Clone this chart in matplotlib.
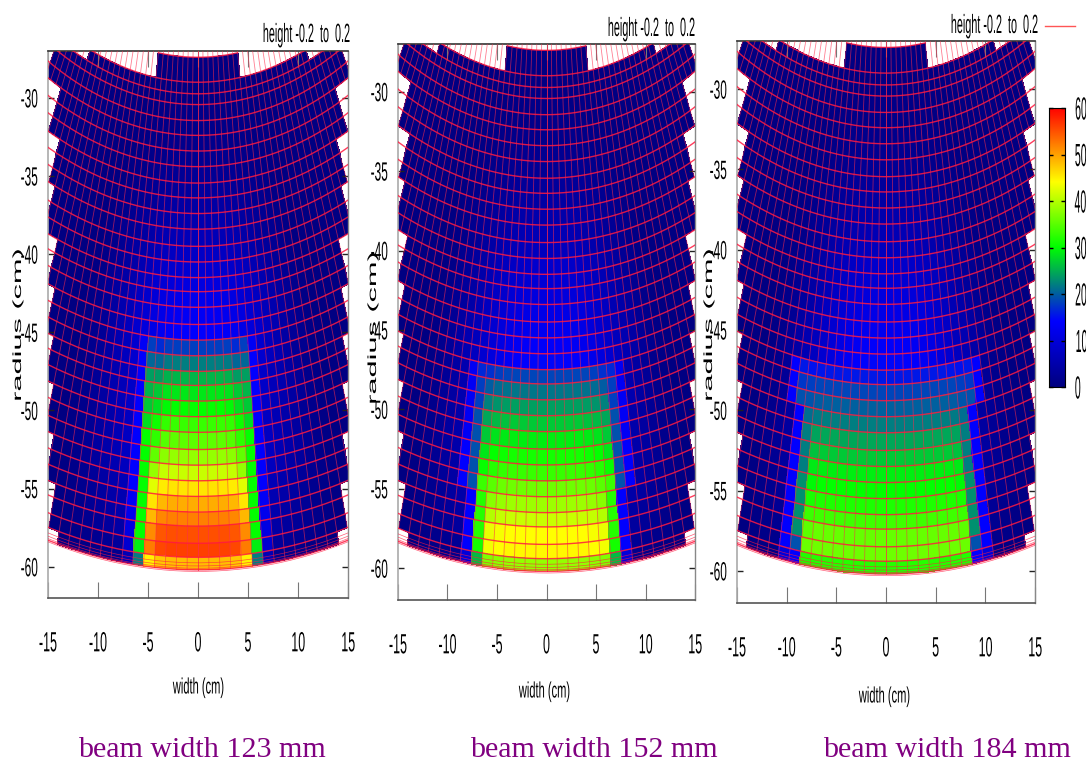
import numpy as np
import matplotlib
matplotlib.use('Agg')
import matplotlib.pyplot as plt
from matplotlib.colors import LinearSegmentedColormap
from matplotlib.lines import Line2D
from matplotlib.patheffects import AbstractPathEffect
from matplotlib.transforms import Affine2D

plt.rcParams['font.family'] = ['Liberation Sans', 'DejaVu Sans']
plt.rcParams['axes.unicode_minus'] = False

ring_edges = [27.4, 29.0, 29.74, 30.43, 31.45, 32.4, 33.4, 34.4, 35.45, 36.4, 37.4, 38.4,
              39.5, 40.5, 41.5, 42.4, 43.4, 44.5, 45.5, 46.5, 47.5, 48.4, 49.4, 50.4,
              51.4, 52.5, 53.5, 54.5, 55.5, 56.5, 57.4, 58.5, 59.4, 60.2]
edge_arcs = [59.75, 59.95, 60.1, 60.3]
bin_deg = 1.04

# outline of the detector: stepped blocks on the sides, stepped start at the top
block_outer = [32.4, 35.45, 38.4, 41.5, 44.5, 47.5, 50.4, 53.5, 56.5, 59.4, 60.2]
block_bins = [27, 24, 22, 21, 19, 18, 17, 16, 15, 14, 13]
start_ring = [0] * 8 + [1] * 13 + [2] * 5 + [3] * 3
glow_side = [1, 1, .98, .95, .9, .82, .72, .62, .5, .4, .3, .2, .12, .06,
             .03, 0, 0, 0, 0, 0, 0, 0, 0, 0, 0, 0, 0, 0, 0]

titles = ['beam width 123 mm', 'beam width 152 mm', 'beam width 184 mm']
height_label = 'height -0.2  to  0.2'
x_ticks = [-15, -10, -5, 0, 5, 10, 15]
y_ticks = [-30, -35, -40, -45, -50, -55, -60]
bar_ticks = [0, 10, 20, 30, 40, 50, 60]

glow_1 = [.5, .5, .8, 1, 1.2, 1.6, 2, 2.6, 3.4, 4.2, 5.2, 6.4, 7.8, 9.2, 10.6, 12, 13, 14,
          14, 14, 13, 13, 13, 12, 12, 12, 11, 10, 9, 8, 7, 5, 3]
core_1 = [18, 22, 25.5, 28.5, 30, 33, 35, 38, 41, 45.5, 49, 52, 55, 56, 48]
edge_1 = [18, 20.5, 24, 25.5, 26.5, 28, 30, 30, 30, 30, 30, 30, 30, 29, 22]
halo_1 = [13, 14, 14, 14, 14, 14, 14, 14, 14, 14, 13, 12, 11, 9, 6]
bins_1 = [5] * 15
side_1 = [1, 1, 1, .99, .93]

glow_2 = [.5, .5, .8, 1, 1.2, 1.6, 2, 2.5, 3.2, 4, 5, 6, 7, 8.5, 9.5, 10.5, 11.5, 12.5, 13.5, 14.5,
          13, 13, 13, 12, 12, 12, 11, 10, 9, 8, 7, 5, 3]
core_2 = [18.5, 21.5, 24, 26.5, 29, 31, 33, 36, 38.5, 41, 44, 44.5, 38]
edge_2 = [16.5, 18, 18, 19, 19, 19, 19, 19, 32, 32, 32, 31, 26]
halo_2 = [13, 13, 13, 13, 13, 14, 14, 14, 14, 14, 14, 14, 10]
bins_2 = [7, 7, 7, 7, 7, 7, 7, 7, 6, 6, 6, 6, 6]
side_2 = [1, 1, 1, 1, .99, .97, .92]

glow_3 = [.5, .5, .8, 1, 1.2, 1.6, 2, 2.5, 3.2, 4, 5, 6, 7, 8.5, 9.5, 10.5, 11.5, 12.5, 13.5, 14.5,
          13, 13, 13, 12, 12, 12, 11, 10, 9, 8, 7, 5, 3]
core_3 = [15.5, 18.5, 20, 22, 24.5, 26.5, 29, 30, 31.5, 33.5, 35.5, 36, 32]
edge_3 = [15.5, 17.5, 19, 21, 22, 22, 22, 23, 23, 23, 23, 19, 14]
halo_3 = [14, 14, 14, 14, 14, 14, 14, 14, 14, 14, 14, 14, 10]
bins_3 = [9, 9, 9, 8, 8, 8, 8, 8, 8, 8, 8, 8, 8]
side_3 = [1, 1, 1, 1, 1, 1, 1, .99, .97]

W, H = 1086, 761
cmap = LinearSegmentedColormap.from_list('beam', [
    (0, (0, 0, .5)), (14 / 60, (0, 0, 1)), (30 / 60, (0, 1, 0)),
    (44 / 60, (1, 1, 0)), (1, (1, 0, 0))])


class Squeeze(AbstractPathEffect):
    # the reference text is stretched, scale it along its own baseline
    def __init__(self, sx, anchor=.5):
        self.sx = sx
        self.anchor = anchor

    def draw_path(self, renderer, gc, tpath, affine, rgbFace=None):
        box = tpath.get_extents()
        cx = box.x0 + self.anchor * box.width
        tr = Affine2D().translate(-cx, 0).scale(self.sx, 1).translate(cx, 0) + affine
        renderer.draw_path(gc, tpath, tr, rgbFace)


def px_axes(left, right, top, bottom):
    return fig.add_axes([left / W, 1 - bottom / H, (right - left) / W, (bottom - top) / H])


def px_text(x, y, s, **kw):
    return fig.text(x / W, 1 - y / H, s, **kw)


def ring_limit(outer):
    for r, n in zip(block_outer, block_bins):
        if outer <= r:
            return n
    return block_bins[-1]


def build_cells(glow, core, edge, halo, bins, side):
    n_ring = len(ring_edges) - 1
    nb = len(start_ring) - 1
    z = np.ma.masked_all((n_ring, 2 * nb))
    first = n_ring - len(core)
    for j in range(n_ring):
        limit = ring_limit(ring_edges[j + 1])
        for i in range(2 * nb):
            k = i - nb if i >= nb else nb - 1 - i
            if k >= limit or j < start_ring[k]:
                continue
            val = glow[j] * glow_side[k]
            if j >= first:
                b = j - first
                if k < bins[b]:
                    val = core[b] * side[k]
                elif k == bins[b]:
                    val = edge[b]
                elif k == bins[b] + 1:
                    val = halo[b]
            z[j, i] = max(val, .3)
    return z


def draw_panel(ax, glow, core, edge, halo, bins, side):
    nb = len(start_ring) - 1
    theta = np.radians(np.arange(-nb, nb + 1) * bin_deg)
    rr, tt = np.meshgrid(ring_edges, theta, indexing='ij')
    ax.pcolormesh(rr * np.sin(tt), -rr * np.cos(tt), build_cells(glow, core, edge, halo, bins, side),
                  cmap=cmap, vmin=0, vmax=60, shading='flat', linewidth=0, antialiased=False)

    # radial mesh, runs on through the white part at the top
    for k in range(nb + 1):
        ends = [ring_edges[j + 1] for j in range(len(ring_edges) - 1) if k <= ring_limit(ring_edges[j + 1])]
        r_end = max(ends) if ends else 33
        for sign in (-1, 1):
            a = sign * np.radians(k * bin_deg)
            ax.plot([24 * np.sin(a), r_end * np.sin(a)], [-24 * np.cos(a), -r_end * np.cos(a)],
                    color='#ff2a4a', lw=.6, alpha=.6, zorder=3)

    # arcs
    for r in ring_edges:
        lim = 8 * bin_deg if r < 29 else 40
        a = np.radians(np.linspace(-lim, lim, 160))
        ax.plot(r * np.sin(a), -r * np.cos(a), color='#ff1a40', lw=1, alpha=.85, zorder=4)
    for r in edge_arcs:
        a = np.radians(np.linspace(-40, 40, 160))
        ax.plot(r * np.sin(a), -r * np.cos(a), color='#ff1a40', lw=.5, alpha=.7, zorder=4)

    ax.set_xlim(-15, 15)
    ax.set_ylim(-62, -27)
    ax.set_xticks(x_ticks)
    ax.set_yticks(y_ticks)
    ax.set_xticklabels([str(v) for v in x_ticks])
    ax.set_yticklabels([str(v) for v in y_ticks])
    ax.tick_params(axis='x', direction='in', top=True, length=11.5, width=.8, color='#777777',
                   pad=24, labelsize=20)
    ax.tick_params(axis='y', direction='in', right=True, length=4, width=1, color='#222222',
                   pad=7, labelsize=19)
    for lab in ax.get_xticklabels():
        lab.set_path_effects([Squeeze(.45)])
    for lab in ax.get_yticklabels():
        lab.set_path_effects([Squeeze(.45, 1)])
    for name, col, lw in [('top', '#333333', 1.2), ('bottom', '#555555', 1.2),
                          ('left', '#aaaaaa', 1.2), ('right', '#888888', 1)]:
        ax.spines[name].set_color(col)
        ax.spines[name].set_linewidth(lw)


fig = plt.figure(figsize=(W / 100, H / 100), dpi=100)

ax1 = px_axes(48, 348, 51, 598)
ax2 = px_axes(398, 695, 44, 600)
ax3 = px_axes(737, 1035, 41, 603)
draw_panel(ax1, glow_1, core_1, edge_1, halo_1, bins_1, side_1)
draw_panel(ax2, glow_2, core_2, edge_2, halo_2, bins_2, side_2)
draw_panel(ax3, glow_3, core_3, edge_3, halo_3, bins_3, side_3)

for x, y in [(351, 35), (696, 29), (1039, 26)]:
    t = px_text(x, y, height_label, ha='right', va='center', fontsize=19)
    t.set_path_effects([Squeeze(.41, 1)])
for x, y in [(18, 325), (373, 328), (709, 325)]:
    t = px_text(x, y, 'radius (cm)', ha='center', va='center', rotation=90, fontsize=8.5)
    t.set_path_effects([Squeeze(2.6)])
for x, y in [(199, 688), (545, 692), (885, 697)]:
    t = px_text(x, y, 'width (cm)', ha='center', va='center', fontsize=16)
    t.set_path_effects([Squeeze(.5)])
for x, s in zip([78, 470, 823], titles):
    px_text(x, 757, s, ha='left', va='baseline', fontsize=21.6, color='#800080',
            family=['Liberation Serif', 'DejaVu Serif'])

fig.add_artist(Line2D([1045 / W, 1075 / W], [1 - 26 / H, 1 - 26 / H], color='#ff5555', lw=1))

# colour box
cax = px_axes(1049, 1065, 108, 387)
cax.imshow(np.linspace(60, 0, 256).reshape(-1, 1), cmap=cmap, vmin=0, vmax=60,
           extent=[0, 1, 0, 60], aspect='auto')
cax.set_xticks([])
cax.set_yticks(bar_ticks)
cax.set_yticklabels([str(v) for v in bar_ticks])
cax.yaxis.tick_right()
cax.tick_params(axis='y', direction='in', left=True, right=True, length=3, width=1,
                pad=6.5, labelsize=23)
for lab in cax.get_yticklabels():
    lab.set_path_effects([Squeeze(.33, 0)])

fig.savefig('out.png', dpi=100)
